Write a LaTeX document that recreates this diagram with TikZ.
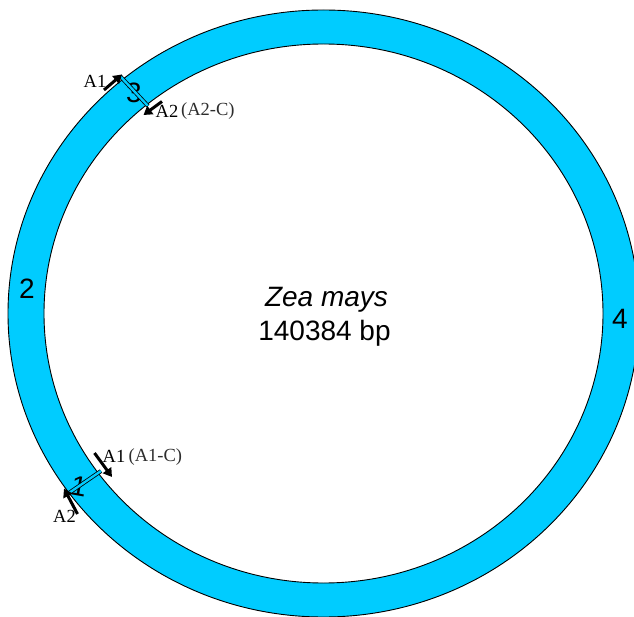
\documentclass[tikz,border=0pt]{standalone}
\usepackage{fontspec}
\setmainfont{Liberation Serif}
\setsansfont{Liberation Sans}
\usetikzlibrary{arrows.meta}

\definecolor{ringblue}{RGB}{0,204,255}
\definecolor{notegray}{RGB}{45,45,45}

\begin{document}
\begin{tikzpicture}[
  x=1pt,
  y=-1pt,
  line cap=round,
  line join=round,
  ringedge/.style={line width=0.9pt},
  cutline/.style={line width=0.8pt, line cap=butt, double=ringblue, double distance=2.4pt},
  primer/.style={line width=3pt, line cap=butt, -{Triangle[length=8.5pt,width=10pt]}},
  regionnum/.style={font=\sffamily\fontsize{28}{28}\selectfont, inner sep=0pt},
  primername/.style={font=\fontsize{18.5}{18.5}\selectfont, inner sep=0pt, anchor=base},
  primernote/.style={font=\fontsize{18.5}{18.5}\selectfont, text=notegray, inner sep=0pt, anchor=base west}
]

\clip (0,0) rectangle (634,617);

% Genome ring
\coordinate (center) at (323.5,313.5);
\fill[ringblue, even odd rule]
  (center) ellipse [x radius=315.5pt, y radius=303.5pt]
  (center) ellipse [x radius=279.5pt, y radius=269.5pt];
\draw[ringedge] (center) ellipse [x radius=315.5pt, y radius=303.5pt];
\draw[ringedge] (center) ellipse [x radius=279.5pt, y radius=269.5pt];

% Title in the middle
\node[font=\sffamily\itshape\fontsize{28}{28}\selectfont, inner sep=0pt, anchor=base]
  (species) at (326.5,307) {Zea mays};
\node[font=\sffamily\fontsize{28}{28}\selectfont, inner sep=0pt, anchor=base]
  (length) at (324.5,340.5) {140384 bp};

% Region numbers
\node[regionnum, anchor=base] (reg2) at (27,299) {2};
\node[regionnum, anchor=base] (reg4) at (620,328) {4};
\node[regionnum] (reg3) at (134,93) {3};
\node[regionnum, rotate=-10] (reg1) at (79,486) {1};

% Boundary at region 3
\coordinate (b3out) at (120,76);
\coordinate (b3in) at (148,106);
\draw[cutline] (b3out) -- (b3in);

\coordinate (a3tail) at (104,90);
\coordinate (a3tip) at (122,74.5);
\draw[primer] (a3tail) -- (a3tip);
\node[primername] (a3name) at (95,88) {A1};

\coordinate (c3tail) at (162,101.5);
\coordinate (c3tip) at (143.5,115);
\draw[primer] (c3tail) -- (c3tip);
\node[primername] (c3name) at (167,117.5) {A2};
\node[primernote] (c3note) at (181,116) {(A2-C)};

% Boundary at region 1
\coordinate (b1out) at (66,495);
\coordinate (b1in) at (101,471);
\draw[cutline] (b1out) -- (b1in);

\coordinate (a1tail) at (94.5,453);
\coordinate (a1tip) at (112,477);
\draw[primer] (a1tail) -- (a1tip);
\node[primername] (a1name) at (114,462) {A1};
\node[primernote] (a1note) at (128.5,461) {(A1-C)};

\coordinate (c1tail) at (77.5,514);
\coordinate (c1tip) at (64,488.5);
\draw[primer] (c1tail) -- (c1tip);
\node[primername] (c1name) at (64.5,522.5) {A2};

\end{tikzpicture}
\end{document}
